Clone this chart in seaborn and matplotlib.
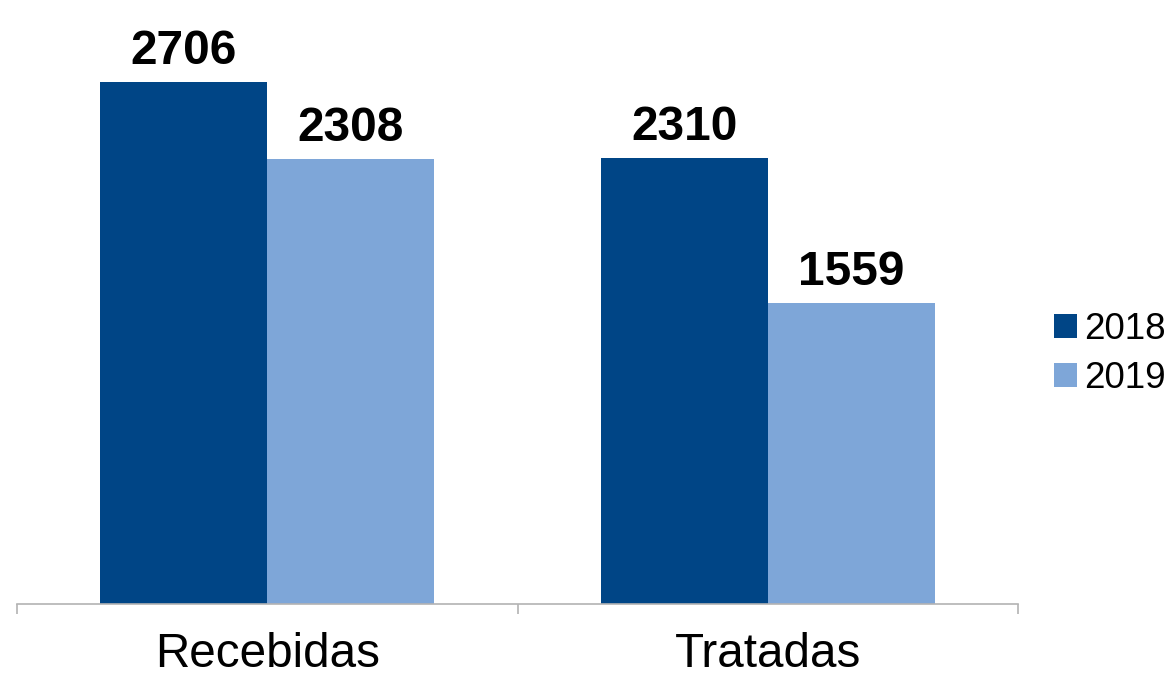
import matplotlib
matplotlib.use("Agg")
import matplotlib.pyplot as plt
import seaborn as sns
import pandas as pd
from matplotlib.patches import Patch

categories = ["Recebidas", "Tratadas"]
years = ["2018", "2019"]
values_2018 = [2706, 2310]
values_2019 = [2308, 1559]
colors = ["#004586", "#7ea6d8"]

df = pd.DataFrame({
    "categoria": categories * 2,
    "ano": [years[0]] * len(categories) + [years[1]] * len(categories),
    "valor": values_2018 + values_2019,
})

sns.set_theme(style="white")
plt.rcParams["font.family"] = ["Liberation Sans", "DejaVu Sans"]
plt.rcParams["text.color"] = "black"

W, H = 1175, 678
fig = plt.figure(figsize=(W / 100, H / 100), dpi=100)
ax_left, ax_right = 17, 1018
base_y, top_y = 604, 10
ax = fig.add_axes([ax_left / W, (H - base_y) / H, (ax_right - ax_left) / W, (base_y - top_y) / H])

sns.barplot(data=df, x="categoria", y="valor", hue="ano", hue_order=years,
            order=categories, palette=colors, width=0.668, gap=0,
            linewidth=0, edgecolor="none", saturation=1, ax=ax, legend=False)

px_per_unit = 522 / 2706
ax.set_ylim(0, (base_y - top_y) / px_per_unit)
ax.set_xlim(-0.5, 1.5)

for c in ax.containers:
    labels = ax.bar_label(c, padding=13, fontsize=34.5, fontweight="bold", color="black")
    for t in labels:
        t.set_va("baseline")
        t.set_clip_on(False)

for s in ["top", "right", "left"]:
    ax.spines[s].set_visible(False)
ax.spines["bottom"].set_color("#b3b3b3")
ax.spines["bottom"].set_linewidth(1.2)

ax.set_yticks([])
ax.set_xticks([-0.5, 0.5, 1.5])
ax.set_xticklabels([])
ax.tick_params(axis="x", which="major", length=7.2, width=1.2, color="#b3b3b3", direction="out", bottom=True)
ax.set_xticks([0, 1], minor=True)
ax.set_xticklabels(categories, minor=True, fontsize=34.3, color="black")
ax.tick_params(axis="x", which="minor", length=0, pad=20)
ax.set_xlabel("")
ax.set_ylabel("")

handles = [Patch(facecolor=colors[i], edgecolor="none", label=years[i]) for i in range(2)]
fs = 26.5
fs_px = fs * 100 / 72
fig.legend(handles=handles, loc="center left",
           bbox_to_anchor=(1054 / W, (H - 354) / H),
           frameon=False, fontsize=fs, labelcolor="black", borderpad=0, borderaxespad=0,
           handlelength=23 / fs_px, handleheight=23 / fs_px,
           handletextpad=0.2, labelspacing=0.38)

fig.savefig("out.png", dpi=100, facecolor="white")
